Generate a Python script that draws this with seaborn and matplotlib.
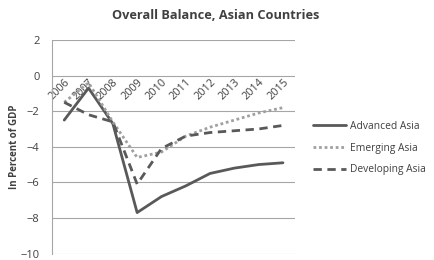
import pandas as pd
import numpy as np
import matplotlib.pyplot as plt
import seaborn as sns

years = [2006, 2007, 2008, 2009, 2010, 2011, 2012, 2013, 2014, 2015]
advanced = [-2.5, -0.7, -2.7, -7.7, -6.8, -6.2, -5.5, -5.2, -5.0, -4.9]
emerging = [-1.5, -0.4, -2.6, -4.6, -4.3, -3.4, -2.9, -2.5, -2.1, -1.8]
developing = [-1.5, -2.2, -2.6, -6.1, -4.1, -3.4, -3.2, -3.1, -3.0, -2.8]

sns.set_style("white")
plt.rcParams['font.family'] = ['Open Sans', 'DejaVu Sans']

fig = plt.figure(figsize=(4.34, 2.6), dpi=100)
ax = fig.add_axes([0.12, 0.025, 0.56, 0.821])

sns.lineplot(x=years, y=advanced, ax=ax, color='#595959', linewidth=2,
             label='Advanced Asia')
sns.lineplot(x=years, y=emerging, ax=ax, color='#a0a0a0', linewidth=2,
             linestyle=(0, (1, 1)), label='Emerging Asia')
sns.lineplot(x=years, y=developing, ax=ax, color='#595959', linewidth=2,
             linestyle=(0, (3, 2)), label='Developing Asia')

# category axis crosses at 0
ax.spines['bottom'].set_position(('data', 0))
ax.spines['bottom'].set_visible(False)
ax.spines['top'].set_visible(False)
ax.spines['right'].set_visible(False)
ax.spines['left'].set_color('#a6a6a6')
ax.spines['left'].set_linewidth(0.8)

ax.set_xlim(years[0] - 0.5, years[-1] + 0.5)
ax.set_ylim(-10, 2)
ax.set_yticks(range(-10, 3, 2))
ax.set_xticks(years)
ax.set_xticklabels([str(y) for y in years], rotation=45, ha='right',
                   rotation_mode='anchor', fontsize=7.8, color='#404040')
ax.tick_params(axis='x', length=0, pad=1)
ax.tick_params(axis='y', length=0, pad=9, labelsize=8, labelcolor='#404040')

ax.grid(axis='y', color='#a6a6a6', linewidth=0.8)
ax.set_axisbelow(True)

ax.set_ylabel('In Percent of GDP', fontsize=7, fontweight='bold',
              color='#404040', labelpad=0)
ax.set_xlabel('')
fig.suptitle('Overall Balance, Asian Countries', fontsize=9.2,
             fontweight='bold', color='#404040', y=0.965, x=0.497)

handles, labels = ax.get_legend_handles_labels()
ax.get_legend().remove()
fig.legend(handles, labels, loc='center left', bbox_to_anchor=(0.7, 0.43),
           frameon=False, fontsize=7.4, handlelength=3.2, labelspacing=1.05,
           handletextpad=0.4, labelcolor='#404040')

fig.savefig('out.png', dpi=100)
